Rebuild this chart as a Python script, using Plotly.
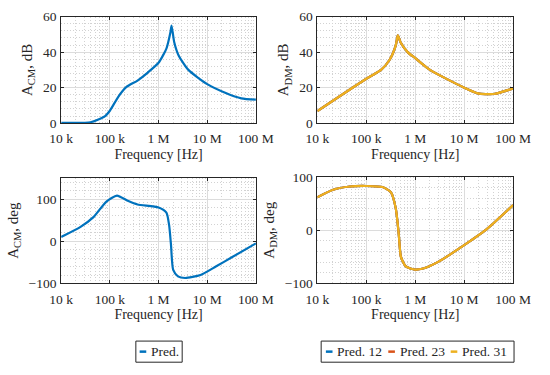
import plotly.graph_objects as go

# --- data ---
cm_mag_f = [1e4, 4e4, 8e4, 1e5, 1.5e5, 2.2e5, 3.7e5, 6e5, 1e6, 1.45e6, 1.75e6, 1.85e6, 2.1e6, 2.6e6, 4.1e6, 1e7, 2.4e7, 5e7, 1e8]
cm_mag = [0.2, 0.5, 4, 7, 15, 20.4, 24, 28.5, 34, 42, 51, 55, 45.6, 38, 30, 22, 17, 14, 13.2]

dm_mag_f = [1e4, 1e5, 2e5, 3e5, 4e5, 4.4e5, 5e5, 7e5, 1e6, 2e6, 1e7, 1.9e7, 4e7, 1e8]
dm_mag = [6.8, 25, 30, 35.7, 43.8, 49.5, 45.6, 40, 36.6, 30, 20, 16.8, 16.4, 19.5]

cm_ph_f = [1e4, 2.5e4, 4.6e4, 8.5e4, 1.4e5, 2.4e5, 3.7e5, 1e6, 1.45e6, 1.65e6, 1.8e6, 2e6, 2.5e6, 3.5e6, 7.3e6, 1.5e7, 3.2e7, 1e8]
cm_ph = [10, 34, 57, 94, 108, 95, 87, 80, 68, 38, -8, -68, -83, -87, -80, -60, -38, -5]

dm_ph_f = [1e4, 2.1e4, 4.6e4, 1e5, 2.15e5, 3.2e5, 4e5, 4.6e5, 5.1e5, 6.4e5, 1e6, 1.45e6, 3e6, 1e7, 2.9e7, 1e8]
dm_ph = [62, 76, 82, 83, 81, 71, 41, -7, -50, -68, -74, -72, -59, -28, 2, 47]

tick_vals = [1e4, 1e5, 1e6, 1e7, 1e8]
tick_text = ["10 k", "100 k", "1 M", "10 M", "100 M"]
cm_name = "Pred."
cm_color = "#0072BD"
dm_names = ["Pred. 12", "Pred. 23", "Pred. 31"]
dm_colors = ["#0072BD", "#D95319", "#EDB120"]

FONT = "Liberation Serif"
TXT = "#262626"
W, H = 550, 375

fig = go.Figure()
LW = 2.2
fig.add_trace(go.Scatter(x=cm_mag_f, y=cm_mag, mode="lines", line=dict(color=cm_color, width=LW, shape="spline", smoothing=0.6),
                         name=cm_name, xaxis="x", yaxis="y", showlegend=False))
fig.add_trace(go.Scatter(x=cm_ph_f, y=cm_ph, mode="lines", line=dict(color=cm_color, width=LW, shape="spline", smoothing=0.6),
                         name=cm_name, xaxis="x3", yaxis="y3", showlegend=False))
for n, c in zip(dm_names, dm_colors):
    fig.add_trace(go.Scatter(x=dm_mag_f, y=dm_mag, mode="lines", line=dict(color=c, width=LW, shape="spline", smoothing=0.6),
                             name=n, xaxis="x2", yaxis="y2", showlegend=False))
    fig.add_trace(go.Scatter(x=dm_ph_f, y=dm_ph, mode="lines", line=dict(color=c, width=LW, shape="spline", smoothing=0.6),
                             name=n, xaxis="x4", yaxis="y4", showlegend=False))


def px(x):
    return x / W


def py(y):
    return (H - y) / H


def xd(l, r):
    return [px(l), px(r)]


def yd(t, b):
    return [py(b), py(t)]


common = dict(showline=True, linecolor=TXT, linewidth=1, mirror="allticks", ticks="inside", ticklen=3,
              tickcolor=TXT, showgrid=True, gridcolor="#DCDCDC", gridwidth=1, zeroline=False,
              tickfont=dict(family=FONT, size=13.5, color=TXT))
MINOR = dict(showgrid=True, gridcolor="#D2D2D2", griddash="1px,2px", ticks="")


def xax(dom, anchor):
    return dict(common, type="log", range=[4, 8], domain=dom, anchor=anchor, tickvals=tick_vals, ticktext=tick_text,
                ticklabelstandoff=3,
                title=dict(text="Frequency [Hz]", font=dict(family=FONT, size=14, color=TXT), standoff=3),
                minor=dict(MINOR, dtick="D1"))


def yax(dom, anchor, rng, tv, title, mdt):
    return dict(common, range=rng, domain=dom, anchor=anchor, tickvals=tv, ticklabelstandoff=1,
                title=dict(text=title, font=dict(family=FONT, size=15, color=TXT), standoff=6),
                minor=dict(MINOR, dtick=mdt))


shapes = []
annotations = []


def legend_box(l, r, t, b, items):
    shapes.append(dict(type="rect", xref="paper", yref="paper", x0=px(l), x1=px(r), y0=py(b), y1=py(t),
                       line=dict(color=TXT, width=1), fillcolor="white", layer="above"))
    yc = (t + b) / 2
    for x0, name, color in items:
        shapes.append(dict(type="line", xref="paper", yref="paper", x0=px(x0), x1=px(x0 + 7), y0=py(yc), y1=py(yc),
                           line=dict(color=color, width=2.5), layer="above"))
        annotations.append(dict(xref="paper", yref="paper", x=px(x0 + 10), y=py(yc), xanchor="left", yanchor="middle",
                                text=name, showarrow=False, font=dict(family=FONT, size=13.5, color=TXT)))


legend_box(131, 180, 348, 370, [(135, cm_name, cm_color)])
legend_box(327, 531, 348, 370, [(332, dm_names[0], dm_colors[0]), (398, dm_names[1], dm_colors[1]),
                                (464, dm_names[2], dm_colors[2])])

fig.update_layout(
    width=W, height=H, margin=dict(l=0, r=0, t=0, b=0),
    paper_bgcolor="white", plot_bgcolor="white",
    font=dict(family=FONT, size=13, color=TXT),
    xaxis=xax(xd(52, 258), "y"),
    yaxis=yax(yd(10, 121), "x", [0, 60], [0, 20, 40, 60], "A<sub>CM</sub>, dB", 4),
    xaxis2=xax(xd(323, 530), "y2"),
    yaxis2=yax(yd(10, 121), "x2", [0, 60], [0, 20, 40, 60], "A<sub>DM</sub>, dB", 4),
    xaxis3=xax(xd(52, 258), "y3"),
    yaxis3=yax(yd(178, 288), "x3", [-100, 150], [-100, 0, 100], "A<sub>CM</sub>, deg", 20),
    xaxis4=xax(xd(323, 530), "y4"),
    yaxis4=yax(yd(177, 288), "x4", [-100, 100], [-100, 0, 100], "A<sub>DM</sub>, deg", 20),
    shapes=shapes,
    annotations=annotations,
    showlegend=False,
)

fig.write_html("out.html", config={"displayModeBar": False},
               post_script="document.body.style.margin='0px';")
